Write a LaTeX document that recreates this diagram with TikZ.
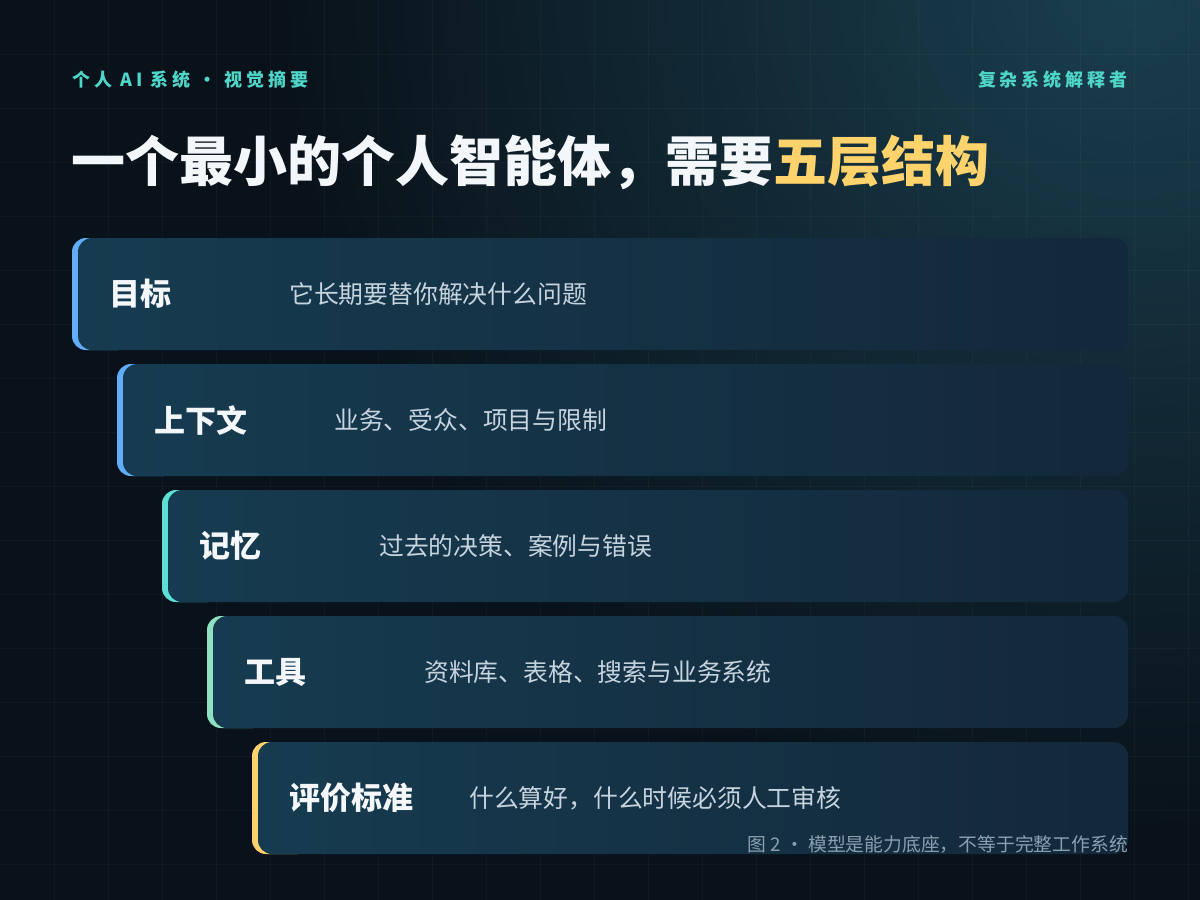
\documentclass[tikz,border=0pt]{standalone}
\usepackage{fontspec}
\setmainfont{Noto Sans CJK SC}
\newfontfamily\cjk{Noto Sans CJK SC}
\newfontfamily\cjkls[LetterSpace=22]{Noto Sans CJK SC}
\definecolor{bgc}{HTML}{09121A}
\definecolor{glowc}{HTML}{1A3F4E}
\definecolor{cardL}{HTML}{163B50}
\definecolor{cardR}{HTML}{13283A}
\definecolor{accBlue}{HTML}{62ADF7}
\definecolor{accTeal}{HTML}{5EDFD5}
\definecolor{accMint}{HTML}{8FE0C0}
\definecolor{accGold}{HTML}{FFD06E}
\definecolor{titleGold}{HTML}{FFD36B}
\definecolor{descc}{HTML}{C6D4DE}
\definecolor{headc}{HTML}{4FD6C8}
\definecolor{capc}{HTML}{8AA0AE}
\definecolor{whitec}{HTML}{F3F7FA}
\tikzset{
  gridline/.style={draw=white, draw opacity=0.03, line width=1pt},
  cardbody/.style={rounded corners=14pt, left color=cardL, right color=cardR},
  headlabel/.style={inner sep=0pt, text=headc, font=\cjkls\bfseries\fontsize{18}{20}\selectfont},
  cardtitle/.style={inner sep=0pt, anchor=west, text=whitec, font=\cjk\bfseries\fontsize{31}{34}\selectfont},
  carddesc/.style={inner sep=0pt, anchor=west, text=descc, font=\cjk\fontsize{24.8}{28}\selectfont},
}
\begin{document}
\begin{tikzpicture}[x=1pt,y=-1pt]
\useasboundingbox (0,0) rectangle (1200,900);
\fill[bgc] (0,0) rectangle (1200,900);
\begin{scope}
\clip (0,0) rectangle (1200,900);
\shade[inner color=glowc, outer color=bgc] (1130,-20) circle (850);
\end{scope}
\foreach \x in {54,108,...,1188} \draw[gridline] (\x,0) -- (\x,900);
\foreach \y in {54,108,...,864} \draw[gridline] (0,\y) -- (1200,\y);

% header
\node[headlabel, anchor=west] (kicker) at (72,80) {个人 AI 系统 · 视觉摘要};
\node[headlabel, anchor=east] (author) at (1128,80) {复杂系统解释者};
\node[inner sep=0pt, anchor=west, font=\cjk\bfseries\fontsize{54}{60}\selectfont, text=whitec] (title) at (71,162)
  {一个最小的个人智能体，需要\textcolor{titleGold}{五层结构}};

% cards
\foreach \i/\t/\d/\c in {0/目标/它长期要替你解决什么问题/accBlue,
                         1/上下文/业务、受众、项目与限制/accBlue,
                         2/记忆/过去的决策、案例与错误/accTeal,
                         3/工具/资料库、表格、搜索与业务系统/accMint,
                         4/评价标准/什么算好，什么时候必须人工审核/accGold}{
  \pgfmathsetmacro{\xo}{72+45*\i}
  \pgfmathsetmacro{\yo}{238+126*\i}
  \fill[\c, rounded corners=14pt] (\xo,\yo) rectangle (\xo+60,\yo+112);
  \shade[cardbody] (\xo+6,\yo) rectangle (1128,\yo+112);
  \node[cardtitle] (t\i) at (\xo+37,\yo+56) {\t};
  \node[carddesc] (d\i) at (\xo+217,\yo+56) {\d};
}

% caption
\node[inner sep=0pt, anchor=east, text=capc, font=\cjk\fontsize{18.8}{20}\selectfont] (caption) at (1128,845)
  {图 2 · 模型是能力底座，不等于完整工作系统};
\end{tikzpicture}
\end{document}
